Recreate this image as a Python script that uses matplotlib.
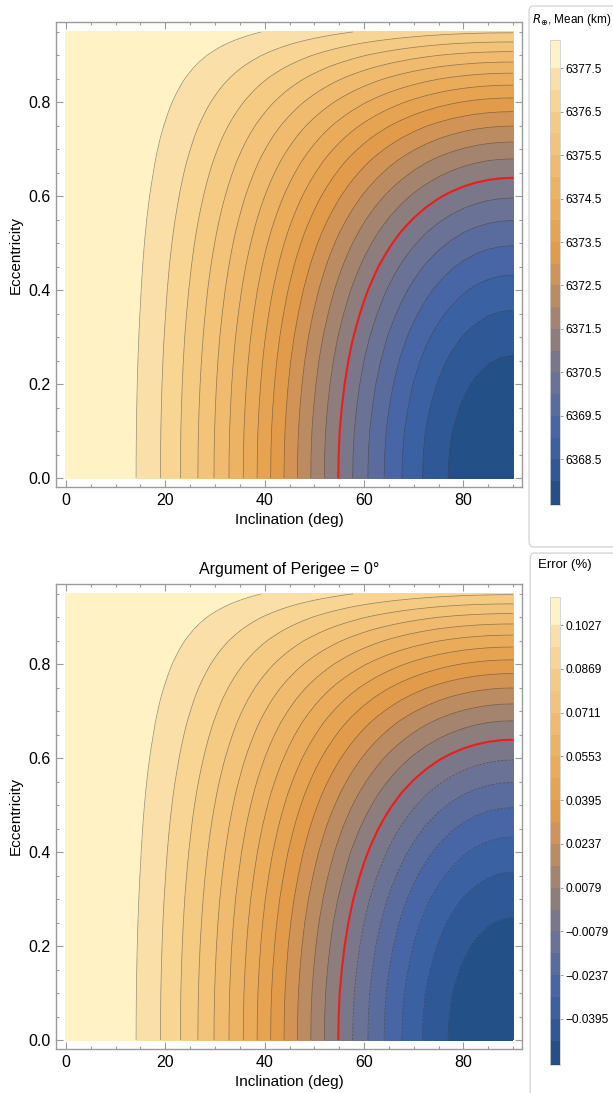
"""
Mean Earth radius under an orbit vs inclination / eccentricity (AoP = 0 deg),
plus the same field as % error against the 6371.0 km mean radius.
"""

import matplotlib
matplotlib.use("Agg")
import matplotlib.pyplot as plt
import numpy as np
from matplotlib.colors import BoundaryNorm, ListedColormap
from matplotlib.patches import FancyBboxPatch
from matplotlib.ticker import MultipleLocator

# --- data ------------------------------------------------------------------
R_EQ = 6378.14          # km, value at zero inclination
R_MEAN = 6371.0         # km, red contour

# drop below R_EQ along the e = 0 edge, by inclination
incl_deg = [0, 2.5, 5, 7.5, 10, 12.5, 15, 17.5, 20, 22.5, 25, 27.5, 30, 32.5,
            35, 37.5, 40, 42.5, 45, 47.5, 50, 52.5, 55, 57.5, 60, 62.5, 65,
            67.5, 70, 72.5, 75, 77.5, 80, 82.5, 85, 87.5, 90]
drop_e0_km = [0.000, 0.020, 0.081, 0.182, 0.322, 0.501, 0.716, 0.967, 1.251,
              1.566, 1.910, 2.280, 2.673, 3.087, 3.518, 3.962, 4.418, 4.880,
              5.346, 5.812, 6.274, 6.730, 7.174, 7.605, 8.019, 8.412, 8.782,
              9.126, 9.441, 9.725, 9.976, 10.191, 10.370, 10.510, 10.611,
              10.672, 10.692]

# share of that drop left at higher eccentricity (read along the i = 90 edge)
ecc = [0.0, 0.05, 0.1, 0.15, 0.2, 0.25, 0.3, 0.35, 0.4, 0.45, 0.475, 0.5,
       0.525, 0.55, 0.575, 0.6, 0.625, 0.65, 0.675, 0.7, 0.725, 0.75, 0.775,
       0.8, 0.825, 0.85, 0.875, 0.9, 0.925, 0.95]
ecc_share = [1.000, 0.998, 0.993, 0.983, 0.970, 0.953, 0.932, 0.906, 0.877,
             0.843, 0.824, 0.804, 0.783, 0.760, 0.736, 0.711, 0.684, 0.656,
             0.627, 0.595, 0.562, 0.527, 0.489, 0.450, 0.408, 0.364, 0.316,
             0.265, 0.209, 0.149]

contour_step_km = 0.5
radius_ticks = [6377.5, 6376.5, 6375.5, 6374.5, 6373.5, 6372.5, 6371.5,
                6370.5, 6369.5, 6368.5]
radius_tick_labels = ["6377.5", "6376.5", "6375.5", "6374.5", "6373.5",
                      "6372.5", "6371.5", "6370.5", "6369.5", "6368.5"]
error_tick_labels = ["0.1027", "0.0869", "0.0711", "0.0553", "0.0395",
                     "0.0237", "0.0079", "\u22120.0079", "\u22120.0237", "\u22120.0395"]

TITLE_BOTTOM = "Argument of Perigee = 0\u00b0"

# one colour per contour band, lowest radius first (Mathematica-like gradient)
BAND_COLORS = [
    "#245088", "#2e5996", "#3a61a1", "#4866a5", "#596c9d", "#6a7295",
    "#7b778a", "#8e7d7d", "#a4846f", "#bb8b61", "#d29356", "#e29b4a",
    "#e6a352", "#eaab5b", "#edb364", "#f0bb6e", "#f2c378", "#f5cb84",
    "#f8d593", "#fae0a8", "#fff3c5",
]

FRAME = "#9a9a9a"

plt.rcParams["font.family"] = ["Liberation Sans", "DejaVu Sans"]
plt.rcParams["mathtext.fontset"] = "dejavusans"


def build_field():
    """Radius table on a fine mesh built from the two read profiles."""
    x = np.linspace(0, 90, 361)
    y = np.linspace(0, 0.95, 381)
    drop = np.interp(x, incl_deg, drop_e0_km)
    share = np.interp(y, ecc, ecc_share)
    X, Y = np.meshgrid(x, y)
    Z = R_EQ - np.outer(share, drop)
    return X, Y, Z


def style_frame(ax):
    ax.set_xlim(-2.0, 91.8)
    ax.set_ylim(-0.019, 0.971)
    for s in ax.spines.values():
        s.set_color(FRAME)
        s.set_linewidth(1.0)
    ax.xaxis.set_major_locator(MultipleLocator(20))
    ax.xaxis.set_minor_locator(MultipleLocator(5))
    ax.yaxis.set_major_locator(MultipleLocator(0.2))
    ax.yaxis.set_minor_locator(MultipleLocator(0.05))
    ax.yaxis.set_major_formatter(plt.FuncFormatter(lambda v, p: f"{v:.1f}"))
    ax.tick_params(which="both", direction="in", top=True, right=True,
                   color=FRAME, width=0.8, labelsize=11.5, pad=4)
    ax.tick_params(which="major", length=5)
    ax.tick_params(which="minor", length=2.5)
    ax.set_xlabel("Inclination (deg)", fontsize=11, labelpad=4)
    ax.set_ylabel("Eccentricity", fontsize=11, labelpad=4)


def draw_panel(fig, rect, cax_rect, X, Y, Z, levels, red_level, ticks, labels):
    ax = fig.add_axes(rect)
    cmap = ListedColormap(BAND_COLORS)
    norm = BoundaryNorm(levels, cmap.N)
    cf = ax.contourf(X, Y, Z, levels=levels, cmap=cmap, norm=norm)
    ax.contour(X, Y, Z, levels=levels[1:-1], colors="#333333",
               linewidths=0.5, alpha=0.55)
    ax.contour(X, Y, Z, levels=[red_level], colors="#ee1c1c", linewidths=1.5)
    style_frame(ax)

    cax = fig.add_axes(cax_rect)
    cb = fig.colorbar(cf, cax=cax, ticks=ticks, spacing="proportional")
    cb.set_ticklabels(labels)
    cb.minorticks_off()
    cb.outline.set_edgecolor("#d0d0d0")
    cb.outline.set_linewidth(0.6)
    cax.tick_params(length=2.5, width=0.6, color="#888888", labelsize=8.6, pad=1)
    return ax


def main():
    X, Y, Z = build_field()
    zmin, zmax = float(Z.min()), float(Z.max())
    inner = np.arange(6368.0, 6377.5 + 0.01, contour_step_km)
    levels = np.concatenate([[zmin - 1e-6], inner, [zmax + 1e-6]])

    fig = plt.figure(figsize=(6.13, 10.93), dpi=100)
    fig.patch.set_facecolor("white")

    # legend boxes (light rounded frames behind the colour bars)
    for (x0, y0, h) in [(0.863, 0.4996, 0.4949), (0.865, -0.02, 0.514)]:
        fig.patches.append(FancyBboxPatch(
            (x0, y0), 0.2, h, boxstyle="round,pad=0,rounding_size=0.006",
            transform=fig.transFigure, facecolor="white", edgecolor="#d6d6d6",
            linewidth=1.0, zorder=-5))

    draw_panel(fig, [0.0914, 0.5544, 0.7602, 0.4254],
               [0.8975, 0.5380, 0.0163, 0.4250],
               X, Y, Z, levels, R_MEAN, radius_ticks, radius_tick_labels)
    fig.text(0.868, 0.982, r"$R_{\oplus}$, Mean (km)", fontsize=8.5,
             ha="left", va="center")

    # same surface expressed as % error against the 6371.0 km mean radius
    E = (Z - R_MEAN) / R_MEAN * 100
    e_levels = (levels - R_MEAN) / R_MEAN * 100
    e_ticks = [(t - R_MEAN) / R_MEAN * 100 for t in radius_ticks]
    ax2 = draw_panel(fig, [0.0914, 0.0403, 0.7602, 0.4254],
                     [0.8975, 0.0256, 0.0163, 0.4280],
                     X, Y, E, e_levels, 0.0, e_ticks, error_tick_labels)
    ax2.set_title(TITLE_BOTTOM, fontsize=11.5, pad=7)
    fig.text(0.922, 0.483, "Error (%)", fontsize=9.5, ha="center", va="center")

    fig.savefig("out.png", dpi=100, facecolor="white")
    plt.close(fig)


if __name__ == "__main__":
    main()
